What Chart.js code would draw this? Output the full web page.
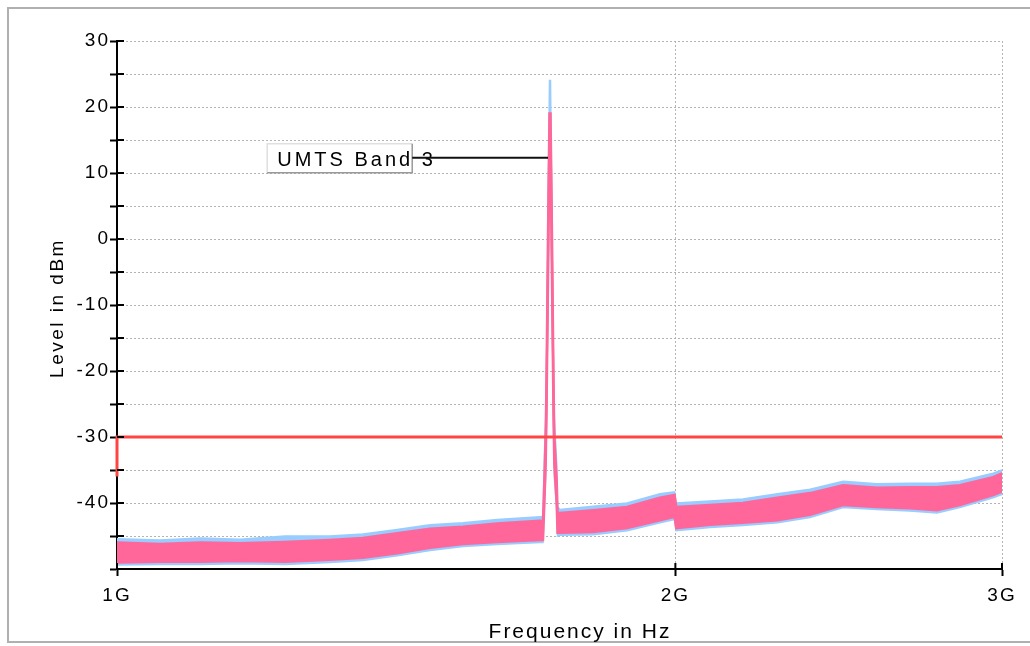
<!DOCTYPE html>
<html>
<head>
<meta charset="utf-8">
<script src="https://cdn.jsdelivr.net/npm/chart.js@4.4.1/dist/chart.umd.min.js"></script>
<style>
html,body{margin:0;padding:0;background:#fff;}
#wrap{width:1030px;height:646px;position:relative;}
</style>
</head>
<body>
<div id="wrap"><canvas id="c"></canvas></div>
<script>
// ---- data (frequency in GHz, level in dBm) ----
const freqGHz = [1.000, 1.055, 1.109, 1.165, 1.232, 1.3025, 1.357, 1.416, 1.475, 1.5365, 1.603, 1.6906, 1.6969,
  1.6997, 1.7026, 1.7043, 1.7075, 1.7107, 1.7128, 1.7160, 1.7192, 1.7209, 1.7260, 1.7278,
  1.733, 1.806, 1.8835, 1.962, 1.998, 2.002, 2.088, 2.175, 2.270, 2.364, 2.463, 2.568, 2.676, 2.767, 2.847, 2.967, 3.000];

const pinkHigh = [-46.0, -46.2, -46.0, -46.1, -45.9, -45.6, -45.3, -44.6, -43.9, -43.6, -43.1, -42.7, -42.8,
  -37, -30, -22, 0, 19, 19, 0, -22, -30, -36.5, -41.5,
  -41.5, -41.1, -40.6, -39.2, -38.8, -40.6, -40.3, -40.0, -39.2, -38.5, -37.3, -37.7, -37.6, -37.6, -37.3, -36.1, -35.5];
const pinkLow = [-49.0, -48.9, -48.9, -48.8, -48.9, -48.6, -48.3, -47.6, -46.8, -46.2, -45.9, -45.6, -45.6,
  -40, -34, -26, -6, 15, 15, -6, -26, -34, -40, -44.5,
  -44.5, -44.4, -43.8, -42.6, -42.1, -43.8, -43.3, -43.0, -42.6, -41.8, -40.3, -40.6, -40.8, -41.1, -40.3, -38.8, -38.3];

const blueHigh = [-45.4, -45.6, -45.3, -45.5, -45.0, -45.0, -44.7, -44.0, -43.3, -43.0, -42.5, -42.1, -42.0,
  -33, -27, -20, 4, 24, 24, 2, -20, -27, -34, -40.5,
  -41.0, -40.5, -40.0, -38.6, -38.3, -40.0, -39.7, -39.4, -38.6, -37.9, -36.7, -37.1, -37.0, -37.0, -36.7, -35.5, -35.0];
const blueLow = [-49.4, -49.3, -49.3, -49.2, -49.3, -49.0, -48.7, -48.0, -47.2, -46.6, -46.3, -46.0, -46.0,
  -41, -36, -28, -8, 13, 13, -8, -28, -36, -41, -45.0,
  -44.9, -44.8, -44.2, -43.0, -42.5, -44.2, -43.7, -43.4, -43.0, -42.2, -40.7, -41.0, -41.2, -41.5, -40.7, -39.2, -38.7];

const limitFreq = [1.0, 1.0, 3.0];
const limitLevel = [-36, -30, -30];

const xTickValues = [1, 2, 3];
const xTickLabels = ['1G', '2G', '3G'];
const yLabelValues = [30, 20, 10, 0, -10, -20, -30, -40];

const markerText = 'UMTS Band 3';
const markerFreq = 1.7075;
const markerLevel = 12.3;
const markerBoxFreq = 1.205;

const pts = (xs, ys) => xs.map((x, i) => ({x: x, y: ys[i]}));

const PINK = '#ff6699';
const BLUE = '#99ccff';
const FONT = '"Liberation Sans", Arial, sans-serif';

const decor = {
  id: 'decor',
  beforeLayout(chart) { chart.ctx.letterSpacing = '2px'; },
  beforeDraw(chart) {
    const ctx = chart.ctx;
    ctx.save();
    ctx.fillStyle = '#fff';
    ctx.fillRect(0, 0, chart.width, chart.height);
    ctx.strokeStyle = '#b0b0b0';
    ctx.lineWidth = 2;
    ctx.strokeRect(8, 8, chart.width + 10, 634);
    ctx.restore();
    ctx.letterSpacing = '2px';
  },
  afterDatasetsDraw(chart) {
    const {ctx, scales: {x, y}} = chart;
    const x0 = x.getPixelForValue(markerBoxFreq);
    const yc = y.getPixelForValue(markerLevel);
    const w = 145, h = 29;
    const top = yc - 14;
    ctx.save();
    ctx.fillStyle = '#fff';
    ctx.fillRect(x0, top, w, h);
    ctx.lineWidth = 1.5;
    ctx.strokeStyle = '#e0e0e0';
    ctx.beginPath(); ctx.moveTo(x0, top + h); ctx.lineTo(x0, top); ctx.lineTo(x0 + w, top); ctx.stroke();
    ctx.strokeStyle = '#9a9a9a';
    ctx.beginPath(); ctx.moveTo(x0 + w, top); ctx.lineTo(x0 + w, top + h); ctx.lineTo(x0, top + h); ctx.stroke();
    ctx.fillStyle = '#000';
    ctx.font = '20px ' + FONT;
    ctx.letterSpacing = '3px';
    ctx.textBaseline = 'alphabetic';
    ctx.textAlign = 'left';
    ctx.fillText(markerText, x0 + 10, yc + 8);
    ctx.strokeStyle = '#111';
    ctx.lineWidth = 2;
    ctx.beginPath(); ctx.moveTo(x0 + w, yc); ctx.lineTo(x.getPixelForValue(markerFreq), yc); ctx.stroke();
    ctx.restore();
  },
  afterDraw(chart) {
    const {ctx, scales: {x, y}, chartArea: a} = chart;
    ctx.save();
    ctx.strokeStyle = '#000';
    ctx.lineWidth = 2;
    y.ticks.forEach(t => {
      const py = y.getPixelForValue(t.value);
      ctx.beginPath(); ctx.moveTo(a.left, py); ctx.lineTo(a.left + 7, py); ctx.stroke();
    });
    x.ticks.forEach(t => {
      const px = x.getPixelForValue(t.value);
      ctx.beginPath(); ctx.moveTo(px, a.bottom); ctx.lineTo(px, a.bottom - 6); ctx.stroke();
    });
    ctx.fillStyle = '#000';
    ctx.textAlign = 'center';
    ctx.textBaseline = 'middle';
    ctx.font = '21px ' + FONT;
    ctx.letterSpacing = '2px';
    ctx.fillText('Frequency in Hz', 580, 632);
    ctx.translate(58, 308);
    ctx.rotate(-Math.PI / 2);
    ctx.font = '19px ' + FONT;
    ctx.letterSpacing = '2.5px';
    ctx.fillText('Level in dBm', 0, 0);
    ctx.restore();
  }
};

const lineDs = (label, data, color, extra) => Object.assign({
  label: label, data: data, borderColor: color, backgroundColor: color,
  borderWidth: 1.5, pointRadius: 0, tension: 0, fill: false
}, extra || {});

new Chart(document.getElementById('c'), {
  type: 'line',
  data: {
    datasets: [
      lineDs('Trace 1 max', pts(freqGHz, blueHigh), BLUE, {order: 2}),
      lineDs('Trace 1 min', pts(freqGHz, blueLow), BLUE, {order: 2, fill: '-1'}),
      lineDs('Trace 2 max', pts(freqGHz, pinkHigh), PINK, {order: 1, borderWidth: 2.5}),
      lineDs('Trace 2 min', pts(freqGHz, pinkLow), PINK, {order: 1, borderWidth: 2.5, fill: '-1'}),
      lineDs('Limit', pts(limitFreq, limitLevel), '#ff4444', {order: 0, borderWidth: 3, clip: false})
    ]
  },
  options: {
    responsive: true,
    maintainAspectRatio: false,
    animation: false,
    events: [],
    layout: {padding: {left: 0, right: 28, top: 41, bottom: 0}},
    plugins: {legend: {display: false}, tooltip: {enabled: false}},
    scales: {
      x: {
        type: 'logarithmic', min: 1, max: 3,
        afterBuildTicks: s => { s.ticks = xTickValues.map(v => ({value: v})); },
        afterFit: s => { s.height = 77; },
        ticks: {
          autoSkip: false, maxRotation: 0, minRotation: 0, color: '#000', padding: 8,
          font: {family: FONT, size: 19},
          callback: v => { const i = xTickValues.indexOf(v); return i >= 0 ? xTickLabels[i] : ''; }
        },
        grid: {color: '#b4b4b4', lineWidth: 1, tickLength: 7, tickColor: '#000', tickWidth: 2},
        border: {color: '#000', width: 2, dash: [2, 2]}
      },
      y: {
        type: 'linear', min: -50, max: 30,
        afterFit: s => { s.width = 117; },
        ticks: {
          stepSize: 5, color: '#000', padding: 0,
          font: {family: FONT, size: 19},
          callback: v => yLabelValues.includes(v) ? String(v) : ''
        },
        grid: {color: '#b4b4b4', lineWidth: 1, tickLength: 7, tickColor: '#000', tickWidth: 2},
        border: {color: '#000', width: 2, dash: [2, 2]}
      }
    }
  },
  plugins: [decor]
});
</script>
</body>
</html>
